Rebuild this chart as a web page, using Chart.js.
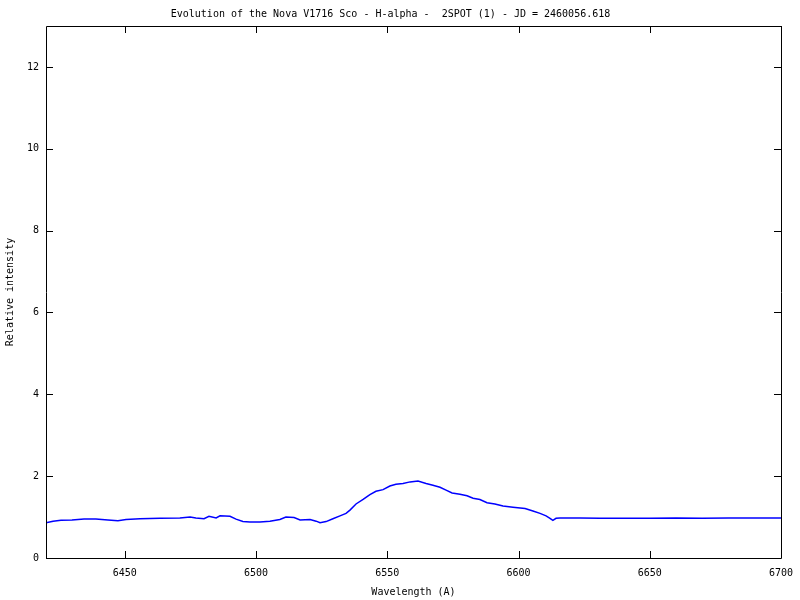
<!DOCTYPE html>
<html>
<head>
<meta charset="utf-8">
<script src="https://cdn.jsdelivr.net/npm/chart.js@4/dist/chart.umd.min.js"></script>
<style>
html,body{margin:0;padding:0;background:#fff;}
#wrap{width:800px;height:600px;}
</style>
</head>
<body>
<div id="wrap"><canvas id="c" width="800" height="600"></canvas></div>
<script>
const chartTitle = "Evolution of the Nova V1716 Sco - H-alpha -  2SPOT (1) - JD = 2460056.618";
const xTitle = "Wavelength (A)";
const yTitle = "Relative intensity";

const wavelengths = [6420, 6422.7, 6425.7, 6429.9, 6434.5, 6439.0, 6443.6, 6447.4, 6450.5, 6455.8,
  6463.4, 6471.0, 6474.9, 6477.1, 6480.2, 6482.1, 6484.8, 6486.3, 6490.1, 6492.4,
  6495.0, 6497.7, 6501.5, 6505.3, 6509.1, 6511.4, 6514.5, 6516.8, 6520.6, 6522.9,
  6524.4, 6526.7, 6529.3, 6532.0, 6534.3, 6535.8, 6538.1, 6540.8, 6543.4, 6545.7,
  6548.4, 6551.0, 6553.3, 6556.0, 6558.7, 6561.7, 6564.8, 6567.4, 6570.1, 6572.4,
  6574.7, 6577.7, 6580.4, 6582.7, 6585.3, 6588.0, 6591.0, 6594.1, 6597.9, 6602.5,
  6605.5, 6608.2, 6610.5, 6612.0, 6613.1, 6614.3, 6615.8, 6623.4, 6631.0, 6640,
  6650, 6660, 6670, 6680, 6690, 6700];

const intensity = [0.86, 0.90, 0.92, 0.93, 0.95, 0.95, 0.93, 0.91, 0.94, 0.96,
  0.97, 0.98, 1.00, 0.98, 0.96, 1.02, 0.98, 1.03, 1.02, 0.95,
  0.89, 0.88, 0.88, 0.90, 0.94, 1.00, 0.99, 0.93, 0.94, 0.90,
  0.86, 0.89, 0.96, 1.03, 1.09, 1.17, 1.32, 1.43, 1.55, 1.63,
  1.67, 1.76, 1.80, 1.82, 1.86, 1.88, 1.82, 1.78, 1.73, 1.66,
  1.59, 1.56, 1.52, 1.46, 1.43, 1.35, 1.32, 1.27, 1.24, 1.21,
  1.15, 1.09, 1.03, 0.97, 0.92, 0.97, 0.98, 0.98, 0.97, 0.97,
  0.97, 0.98, 0.97, 0.98, 0.98, 0.98];

const xTicks = [6450, 6500, 6550, 6600, 6650, 6700];
const yTicks = [0, 2, 4, 6, 8, 10, 12];

const FONT = "'DejaVu Sans Mono', monospace";

const points = wavelengths.map((w, i) => ({x: w, y: intensity[i]}));

const frameTicks = {
  id: 'frameTicks',
  afterDraw(chart) {
    const ctx = chart.ctx;
    const a = chart.chartArea;
    const xs = chart.scales.x, ys = chart.scales.y;
    const L = 7;
    ctx.save();
    ctx.strokeStyle = '#000';
    ctx.lineWidth = 1;
    ctx.beginPath();
    ctx.rect(Math.round(a.left) + 0.5, Math.round(a.top) + 0.5,
             Math.round(a.right - a.left), Math.round(a.bottom - a.top));
    xs.ticks.forEach(t => {
      const px = Math.round(xs.getPixelForValue(t.value)) + 0.5;
      ctx.moveTo(px, a.bottom); ctx.lineTo(px, a.bottom - L);
      ctx.moveTo(px, a.top); ctx.lineTo(px, a.top + L);
    });
    ys.ticks.forEach(t => {
      const py = Math.round(ys.getPixelForValue(t.value)) + 0.5;
      ctx.moveTo(a.left, py); ctx.lineTo(a.left + L, py);
      ctx.moveTo(a.right, py); ctx.lineTo(a.right - L, py);
    });
    ctx.stroke();
    ctx.restore();
  }
};

new Chart(document.getElementById('c'), {
  type: 'scatter',
  data: {
    datasets: [{
      data: points,
      showLine: true,
      borderColor: '#0000ff',
      borderWidth: 1.5,
      pointRadius: 0,
      tension: 0,
      fill: false
    }]
  },
  options: {
    responsive: false,
    animation: false,
    devicePixelRatio: 1,
    layout: {padding: {left: 0, right: 19, top: 0, bottom: 0}},
    plugins: {
      legend: {display: false},
      tooltip: {enabled: false},
      title: {
        display: true,
        text: chartTitle,
        color: '#000',
        font: {family: FONT, size: 10, weight: 'normal', lineHeight: 1.2},
        padding: {top: 8, bottom: 6}
      }
    },
    scales: {
      x: {
        type: 'linear',
        min: 6420, max: 6700,
        afterBuildTicks: s => { s.ticks = xTicks.map(v => ({value: v})); },
        afterFit: s => { s.height = 42; s.paddingLeft = 0; s.paddingRight = 0; },
        grid: {display: false, drawTicks: false},
        border: {display: false},
        ticks: {
          color: '#000',
          font: {family: FONT, size: 10},
          padding: 9,
          maxRotation: 0,
          autoSkip: false,
          callback: v => String(v)
        },
        title: {
          display: true, text: xTitle, color: '#000',
          font: {family: FONT, size: 10},
          padding: {top: 0, bottom: 2}
        }
      },
      y: {
        type: 'linear',
        min: 0, max: 13,
        afterBuildTicks: s => { s.ticks = yTicks.map(v => ({value: v})); },
        afterFit: s => { s.width = 46; s.paddingTop = 0; s.paddingBottom = 0; },
        grid: {display: false, drawTicks: false},
        border: {display: false},
        ticks: {
          color: '#000',
          font: {family: FONT, size: 10},
          padding: 7,
          autoSkip: false,
          callback: v => String(v)
        },
        title: {
          display: true, text: yTitle, color: '#000',
          font: {family: FONT, size: 10},
          padding: {top: 4, bottom: 0}
        }
      }
    }
  },
  plugins: [frameTicks]
});
</script>
</body>
</html>
